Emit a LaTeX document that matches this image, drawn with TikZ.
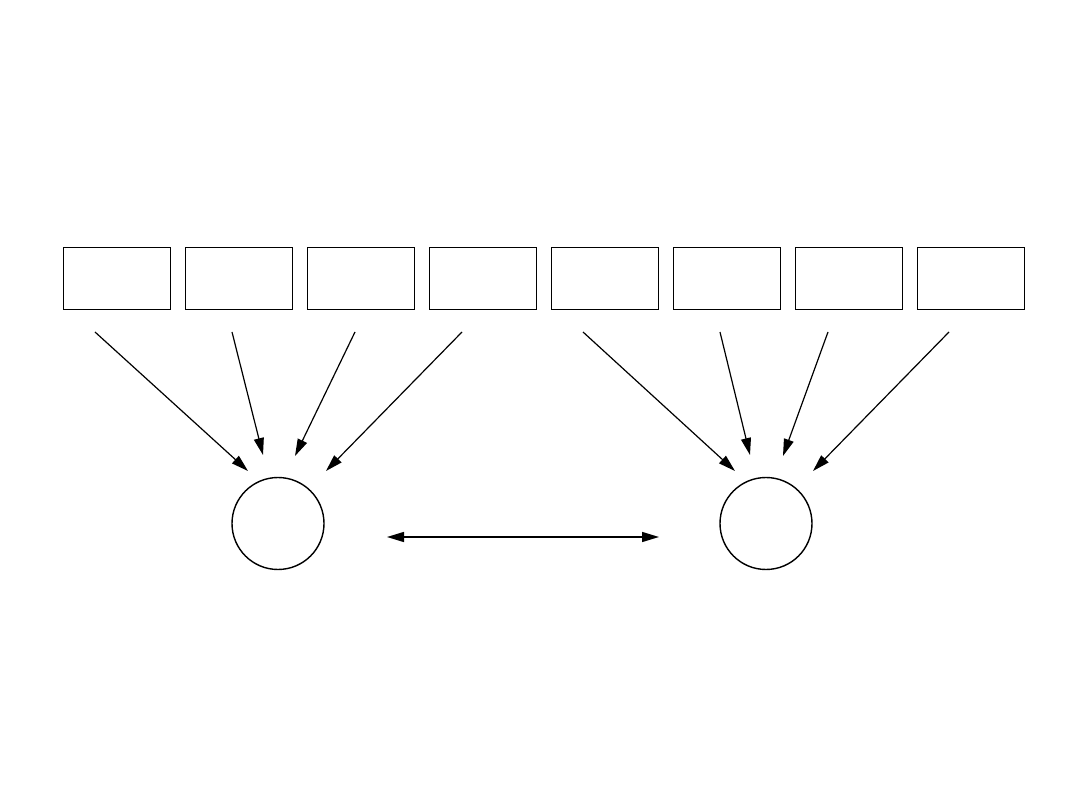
\documentclass[tikz,border=0pt]{standalone}
\usetikzlibrary{arrows.meta}
\begin{document}
\begin{tikzpicture}[x=1pt,y=-1pt,
  boxnode/.style={draw,line width=1.8pt,minimum width=107pt,minimum height=62pt,inner sep=0pt,outer sep=0pt},
  circnode/.style={draw,circle,line width=1.4pt,minimum size=92pt,inner sep=0pt},
  conn/.style={line width=1.2pt,-{Triangle[length=17pt,width=10pt]}},
  dconn/.style={line width=1.4pt,{Triangle[length=17pt,width=10pt]}-{Triangle[length=17pt,width=10pt]}}]
\useasboundingbox (0,0) rectangle (1080,810);
\foreach \i/\x in {1/117,2/239,3/361,4/483,5/605,6/727,7/849,8/971}
  \node[boxnode] (b\i) at (\x,278.5) {};
\node[circnode] (c1) at (278,523.5) {};
\node[circnode] (c2) at (766,523.5) {};
% arrow start and end points
\coordinate (s1) at (95,332);  \coordinate (e1) at (248,471);
\coordinate (s2) at (232,332); \coordinate (e2) at (263,455);
\coordinate (s3) at (355,332); \coordinate (e3) at (295,456);
\coordinate (s4) at (462,332); \coordinate (e4) at (326,471);
\coordinate (s5) at (583,332); \coordinate (e5) at (735,471);
\coordinate (s6) at (720,332); \coordinate (e6) at (750,455);
\coordinate (s7) at (828,332); \coordinate (e7) at (783,456);
\coordinate (s8) at (949,332); \coordinate (e8) at (813,471);
\foreach \i in {1,...,8} \draw[conn] (s\i) -- (e\i);
\coordinate (dl) at (387,537);
\coordinate (dr) at (659,537);
\draw[dconn] (dl) -- (dr);
\end{tikzpicture}
\end{document}
